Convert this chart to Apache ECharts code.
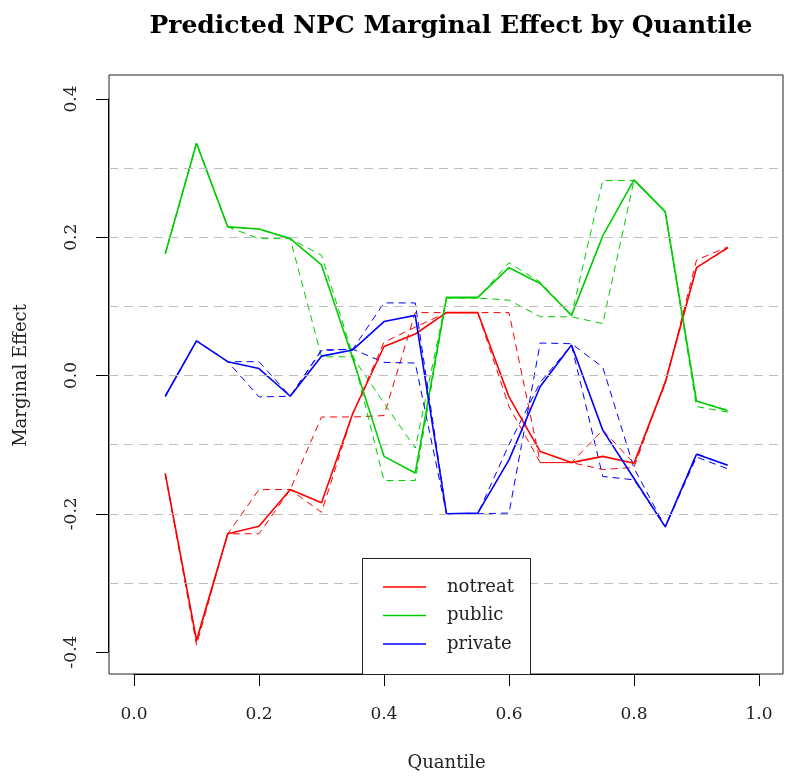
<!DOCTYPE html>
<html>
<head>
<meta charset="utf-8">
<script src="https://cdn.jsdelivr.net/npm/echarts@6/dist/echarts.min.js"></script>
<style>
  html, body { margin: 0; padding: 0; background: #fff; }
  #chart { width: 785px; height: 778px; }
</style>
</head>
<body>
<div id="chart"></div>
<script>
// Quantile grid used on the x axis
const quantiles = [0.05, 0.10, 0.15, 0.20, 0.25, 0.30, 0.35, 0.40, 0.45, 0.50,
                   0.55, 0.60, 0.65, 0.70, 0.75, 0.80, 0.85, 0.90, 0.95];

// Marginal effect estimates (solid) and two alternative estimates (dashed) per group
const notreat      = [-0.142, -0.383, -0.229, -0.218, -0.165, -0.184, -0.055, 0.042, 0.060, 0.091,
                       0.091, -0.031, -0.110, -0.126, -0.117, -0.127, -0.010, 0.156, 0.185];
const notreatDashA = [-0.142, -0.390, -0.229, -0.165, -0.165, -0.198, -0.055, 0.048, 0.070, 0.091,
                       0.091, -0.045, -0.126, -0.126, -0.079, -0.127, -0.012, 0.167, 0.186];
const notreatDashB = [-0.142, -0.385, -0.229, -0.229, -0.165, -0.060, -0.060, -0.058, 0.091, 0.091,
                       0.091, 0.091, -0.126, -0.126, -0.136, -0.133, -0.008, 0.156, 0.184];

const publicEff    = [0.176, 0.336, 0.215, 0.212, 0.198, 0.160, 0.025, -0.117, -0.141, 0.113,
                      0.113, 0.156, 0.133, 0.087, 0.202, 0.283, 0.237, -0.037, -0.051];
const publicDashA  = [0.176, 0.336, 0.215, 0.212, 0.198, 0.174, 0.030, -0.152, -0.152, 0.112,
                      0.112, 0.163, 0.135, 0.087, 0.282, 0.282, 0.236, -0.037, -0.050];
const publicDashB  = [0.176, 0.336, 0.215, 0.198, 0.198, 0.027, 0.027, -0.040, -0.105, 0.112,
                      0.112, 0.109, 0.085, 0.085, 0.075, 0.282, 0.236, -0.045, -0.053];

const privateEff   = [-0.030, 0.050, 0.020, 0.010, -0.030, 0.028, 0.037, 0.078, 0.087, -0.200,
                      -0.199, -0.122, -0.016, 0.044, -0.079, -0.149, -0.219, -0.114, -0.130];
const privateDashA = [-0.030, 0.050, 0.020, -0.031, -0.030, 0.037, 0.038, 0.019, 0.018, -0.200,
                      -0.200, -0.199, 0.047, 0.046, 0.012, -0.134, -0.219, -0.113, -0.130];
const privateDashB = [-0.030, 0.050, 0.020, 0.020, -0.030, 0.036, 0.038, 0.105, 0.105, -0.200,
                      -0.200, -0.100, -0.010, 0.044, -0.146, -0.151, -0.219, -0.118, -0.135];

// Axis ticks and reference lines
const xTicks = [0.0, 0.2, 0.4, 0.6, 0.8, 1.0];
const yTicks = [-0.4, -0.2, 0.0, 0.2, 0.4];
const refLines = [-0.3, -0.2, -0.1, 0.0, 0.1, 0.2, 0.3];

// Legend entries
const groups = ['notreat', 'public', 'private'];

const COLORS = { notreat: '#FF0000', public: '#00CD00', private: '#0000FF' };
const SERIF = '"DejaVu Serif", "Liberation Serif", serif';

// Plot frame geometry (pixels)
const PLOT = { left: 109, top: 75, right: 783, bottom: 674 };
const X0PX = 134, X1PX = 759;     // positions of x = 0 and x = 1
const YTOP = 99, YBOT = 652;      // positions of y = 0.4 and y = -0.4

const xPerPx = 1 / (X1PX - X0PX);
const yPerPx = 0.8 / (YBOT - YTOP);
const xMin = 0 - (X0PX - PLOT.left) * xPerPx;
const xMax = 1 + (PLOT.right - X1PX) * xPerPx;
const yMax = 0.4 + (YTOP - PLOT.top) * yPerPx;
const yMin = -0.4 - (PLOT.bottom - YBOT) * yPerPx;

const pairs = vals => quantiles.map((q, i) => [q, vals[i]]);

function solid(name, vals, color) {
  return {
    name, type: 'line', xAxisIndex: 0, yAxisIndex: 0,
    data: pairs(vals), symbol: 'none', z: 3,
    lineStyle: { color, width: 1.6 }, itemStyle: { color },
    emphasis: { disabled: true }, animation: false
  };
}
function dashed(name, vals, color) {
  return {
    name, type: 'line', xAxisIndex: 0, yAxisIndex: 0,
    data: pairs(vals), symbol: 'none', z: 2,
    lineStyle: { color, width: 1, type: [7, 5] }, itemStyle: { color },
    emphasis: { disabled: true }, animation: false
  };
}

// Boxed legend in the lower middle of the plot
const LEG = { x: 362, y: 558, w: 168, h: 116, lineX0: 383, lineX1: 426, textX: 447, rows: [587, 615.5, 644] };
const legendGraphics = [
  { type: 'rect', shape: { x: LEG.x + 0.5, y: LEG.y + 0.5, width: LEG.w, height: LEG.h },
    style: { fill: '#fff', stroke: '#222', lineWidth: 1 }, z: 10, silent: true }
];
groups.forEach((g, i) => {
  legendGraphics.push({
    type: 'line', shape: { x1: LEG.lineX0, y1: LEG.rows[i], x2: LEG.lineX1, y2: LEG.rows[i] },
    style: { stroke: COLORS[g], lineWidth: 1.6 }, z: 11, silent: true
  });
  legendGraphics.push({
    type: 'text', x: LEG.textX, y: LEG.rows[i],
    style: { text: g, fontFamily: SERIF, fontSize: 18, fill: '#222', textVerticalAlign: 'middle', verticalAlign: 'middle' },
    z: 11, silent: true
  });
});

const chart = echarts.init(document.getElementById('chart'), null, { renderer: 'canvas' });

chart.setOption({
  backgroundColor: '#fff',
  animation: false,
  title: {
    text: 'Predicted NPC Marginal Effect by Quantile',
    left: 446, top: 9, textAlign: 'center',
    textStyle: { fontFamily: SERIF, fontWeight: 'bold', fontSize: 25, color: '#000' }
  },
  grid: [
    { left: PLOT.left, top: PLOT.top, width: PLOT.right - PLOT.left, height: PLOT.bottom - PLOT.top,
      show: true, borderColor: '#222', borderWidth: 1, backgroundColor: 'transparent' },
    { left: X0PX, top: PLOT.bottom - 1, width: X1PX - X0PX, height: 1 },
    { left: PLOT.left - 1, top: YTOP, width: 1, height: YBOT - YTOP }
  ],
  xAxis: [
    { type: 'value', gridIndex: 0, min: xMin, max: xMax, show: false },
    { type: 'value', gridIndex: 1, min: xTicks[0], max: xTicks[xTicks.length - 1], interval: 0.2, position: 'bottom',
      axisLine: { show: true, onZero: false, lineStyle: { color: '#000', width: 1 } },
      axisTick: { show: true, length: 12, lineStyle: { color: '#000' } },
      axisLabel: { show: true, margin: 32, fontFamily: SERIF, fontSize: 17, color: '#222',
                   formatter: v => v.toFixed(1) },
      splitLine: { show: false },
      name: 'Quantile', nameLocation: 'middle', nameGap: 80,
      nameTextStyle: { fontFamily: SERIF, fontSize: 18, color: '#222' } },
    { type: 'value', gridIndex: 2, min: 0, max: 1, show: false }
  ],
  yAxis: [
    { type: 'value', gridIndex: 0, min: yMin, max: yMax, show: false },
    { type: 'value', gridIndex: 1, min: 0, max: 1, show: false },
    { type: 'value', gridIndex: 2, min: yTicks[0], max: yTicks[yTicks.length - 1], interval: 0.2, position: 'left',
      axisLine: { show: true, onZero: false, lineStyle: { color: '#000', width: 1 } },
      axisTick: { show: true, length: 12, lineStyle: { color: '#000' } },
      axisLabel: { show: true, rotate: 90, margin: 28, fontFamily: SERIF, fontSize: 17, color: '#222',
                   formatter: v => v.toFixed(1) },
      splitLine: { show: false },
      name: 'Marginal Effect', nameLocation: 'middle', nameGap: 78, nameRotate: 90,
      nameTextStyle: { fontFamily: SERIF, fontSize: 18, color: '#222' } }
  ],
  graphic: legendGraphics,
  series: [
    {
      name: 'reference lines', type: 'line', xAxisIndex: 0, yAxisIndex: 0, data: [], z: 1,
      silent: true,
      markLine: {
        silent: true, symbol: 'none', animation: false,
        label: { show: false },
        lineStyle: { color: '#BEBEBE', width: 1, type: [9, 6] },
        data: refLines.map(v => ({ yAxis: v }))
      }
    },
    dashed('notreat lower', notreatDashA, COLORS.notreat),
    dashed('notreat upper', notreatDashB, COLORS.notreat),
    dashed('public lower', publicDashA, COLORS.public),
    dashed('public upper', publicDashB, COLORS.public),
    dashed('private lower', privateDashA, COLORS.private),
    dashed('private upper', privateDashB, COLORS.private),
    solid(groups[0], notreat, COLORS.notreat),
    solid(groups[1], publicEff, COLORS.public),
    solid(groups[2], privateEff, COLORS.private)
  ]
});
</script>
</body>
</html>
